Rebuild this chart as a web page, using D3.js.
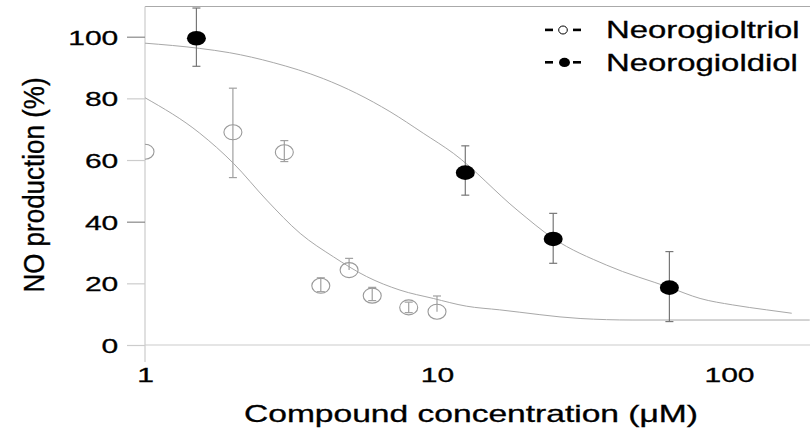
<!DOCTYPE html>
<html>
<head>
<meta charset="utf-8">
<script src="https://cdn.jsdelivr.net/npm/d3@7"></script>
<style>
  body { margin: 0; background: #fff; }
  svg { display: block; font-family: "Liberation Sans", Arial, sans-serif; }
  svg text { stroke: #000; stroke-width: 0.3px; }
</style>
</head>
<body>
<div id="chart"></div>
<script>
// measured points, Neorogioltriol (open circles)
var triolConc = [1, 2, 3, 4, 5, 6, 8, 10];
var triolMean = [62.7, 69.0, 62.5, 19.2, 24.3, 16.0, 12.2, 10.8];
var triolErrUp = [0, 14.3, 3.8, 2.6, 3.8, 2.7, 1.7, 5.1];
var triolErrDown = [0, 14.7, 3.0, 1.9, 0, 1.6, 1.7, 0];

// measured points, Neorogioldiol (filled circles)
var diolConc = [1.5, 12.5, 25, 62.5];
var diolMean = [99.5, 55.9, 34.4, 18.6];
var diolErrUp = [9.8, 8.7, 8.3, 11.7];
var diolErrDown = [9.1, 7.3, 7.9, 11.0];

// fitted curves
var triolCurveConc = [1, 1.54, 2.01, 2.61, 3.40, 4.42, 5.74, 7.47, 9.71, 12.6, 16.4, 30.9, 46.9, 189];
var triolCurveVal = [80.2, 68.7, 58.9, 47.0, 36.2, 28.6, 22.2, 17.8, 15.1, 12.6, 11.4, 8.6, 8.1, 8.1];
var diolCurveConc = [1, 1.54, 1.95, 2.75, 4.08, 5.31, 6.90, 8.97, 11.37, 18.8, 25.0, 38.1, 62.8, 79.6, 103, 134.6, 164];
var diolCurveVal = [97.9, 96.2, 94.8, 91.6, 86.4, 81.6, 75.7, 68.7, 62.2, 43.8, 34.6, 25.9, 18.6, 15.1, 13.0, 11.4, 10.3];

var xTicks = [1, 10, 100];
var yTicks = [0, 20, 40, 60, 80, 100];
var legendLabels = ["Neorogioltriol", "Neorogioldiol"];

var width = 810, height = 430;
var plotLeft = 145, plotRight = 810, plotTop = 6.5, axisBottom = 362;
var sx = 1.43; // the figure is stretched sideways, text too

var x = d3.scaleLog().domain([1, 100]).range([145, 729]);
var y = d3.scaleLinear().domain([0, 100]).range([345, 36.7]);

var svg = d3.select("#chart").append("svg")
    .attr("width", width)
    .attr("height", height);

svg.append("rect").attr("width", width).attr("height", height).attr("fill", "#fff");

svg.append("clipPath").attr("id", "plot-clip")
  .append("rect")
    .attr("x", plotLeft).attr("y", 0)
    .attr("width", plotRight - plotLeft).attr("height", axisBottom);

// frame lines
svg.append("line")
    .attr("x1", plotLeft).attr("x2", plotRight)
    .attr("y1", plotTop).attr("y2", plotTop)
    .attr("stroke", "#aaa").attr("stroke-width", 1.2);

svg.append("line")
    .attr("x1", plotLeft).attr("x2", plotRight)
    .attr("y1", y(0)).attr("y2", y(0))
    .attr("stroke", "#ccc").attr("stroke-width", 1.2);

svg.append("line")
    .attr("x1", plotLeft).attr("x2", plotLeft)
    .attr("y1", plotTop).attr("y2", axisBottom)
    .attr("stroke", "#ccc").attr("stroke-width", 1.2);

// y axis
var yAxis = svg.append("g")
    .attr("class", "y axis")
    .attr("transform", "translate(" + plotLeft + ",0)")
    .call(d3.axisLeft(y).tickValues(yTicks).tickSize(18).tickPadding(8.7).tickSizeOuter(0));
yAxis.select(".domain").remove();
yAxis.selectAll(".tick line")
    .attr("stroke", function(d) { return (d == 100 || d == 40) ? "#888" : "#ccc"; })
    .attr("stroke-width", 1.2);
yAxis.selectAll(".tick text")
    .attr("font-size", 21)
    .attr("font-family", "Liberation Sans, Arial, sans-serif")
    .attr("fill", "#000")
    .attr("dy", 7.5)
    .attr("x", -26.7 / sx)
    .attr("transform", "scale(" + sx + ",1)");

// x axis (labels only)
var xAxis = svg.append("g")
    .attr("class", "x axis")
    .attr("transform", "translate(0," + y(0) + ")")
    .call(d3.axisBottom(x).tickValues(xTicks).tickSize(0).tickFormat(d3.format("d")));
xAxis.select(".domain").remove();
xAxis.selectAll(".tick text")
    .attr("font-size", 21)
    .attr("font-family", "Liberation Sans, Arial, sans-serif")
    .attr("fill", "#000")
    .attr("y", 37)
    .attr("dy", 0)
    .attr("transform", "scale(" + sx + ",1)");

// axis titles
svg.append("text")
    .attr("transform", "translate(471,422) scale(1.46,1)")
    .attr("text-anchor", "middle")
    .attr("font-size", 23)
    .text("Compound concentration (μM)");

svg.append("text")
    .attr("transform", "translate(43.5,185) scale(1.15,1) rotate(-90)")
    .attr("text-anchor", "middle")
    .attr("font-size", 26)
    .text("NO production (%)");

// curves and points
var plot = svg.append("g").attr("clip-path", "url(#plot-clip)");

var line = d3.line()
    .curve(d3.curveMonotoneX)
    .x(function(d) { return x(d[0]); })
    .y(function(d) { return y(d[1]); });

plot.append("path")
    .datum(d3.zip(triolCurveConc, triolCurveVal))
    .attr("fill", "none").attr("stroke", "#a8a8a8").attr("stroke-width", 1)
    .attr("d", line);

plot.append("path")
    .datum(d3.zip(diolCurveConc, diolCurveVal))
    .attr("fill", "none").attr("stroke", "#a8a8a8").attr("stroke-width", 1)
    .attr("d", line);

function drawErrors(conc, mean, up, down, colour) {
  var g = plot.append("g").attr("stroke", colour).attr("stroke-width", 1.2);
  conc.forEach(function(c, i) {
    var cx = x(c), hi = y(mean[i] + up[i]), lo = y(mean[i] - down[i]);
    if (up[i] == 0 && down[i] == 0) return;
    g.append("line").attr("x1", cx).attr("x2", cx).attr("y1", hi).attr("y2", lo);
    if (up[i] > 0) g.append("line").attr("x1", cx - 4).attr("x2", cx + 4).attr("y1", hi).attr("y2", hi);
    if (down[i] > 0) g.append("line").attr("x1", cx - 4).attr("x2", cx + 4).attr("y1", lo).attr("y2", lo);
  });
}

drawErrors(triolConc, triolMean, triolErrUp, triolErrDown, "#a0a0a0");
drawErrors(diolConc, diolMean, diolErrUp, diolErrDown, "#777");

plot.append("g").selectAll("ellipse")
    .data(d3.zip(triolConc, triolMean))
    .enter().append("ellipse")
    .attr("cx", function(d) { return x(d[0]); })
    .attr("cy", function(d) { return y(d[1]); })
    .attr("rx", 9).attr("ry", 7.5)
    .attr("fill", "none").attr("stroke", "#999").attr("stroke-width", 1.1);

plot.append("g").selectAll("ellipse")
    .data(d3.zip(diolConc, diolMean))
    .enter().append("ellipse")
    .attr("cx", function(d) { return x(d[0]); })
    .attr("cy", function(d) { return y(d[1]); })
    .attr("rx", 9.5).attr("ry", 7.3)
    .attr("fill", "#000");

// legend
var legend = svg.append("g").attr("class", "legend");
legendLabels.forEach(function(label, i) {
  var row = legend.append("g").attr("transform", "translate(0," + (i * 32.4) + ")");
  row.append("rect").attr("x", 545).attr("y", 28.6).attr("width", 8).attr("height", 2.6).attr("fill", "#000");
  row.append("rect").attr("x", 573).attr("y", 28.6).attr("width", 8).attr("height", 2.6).attr("fill", "#000");
  if (i == 0) {
    row.append("ellipse").attr("cx", 563).attr("cy", 30).attr("rx", 4.3).attr("ry", 4)
        .attr("fill", "#fff").attr("stroke", "#000").attr("stroke-width", 1);
  } else {
    row.append("ellipse").attr("cx", 564.5).attr("cy", 30).attr("rx", 5.5).attr("ry", 4.6)
        .attr("fill", "#000");
  }
  row.append("text")
      .attr("transform", "translate(606,38.3) scale(" + sx + ",1)")
      .attr("font-size", 23)
      .attr("stroke-width", 0.6)
      .text(label);
});
</script>
</body>
</html>
